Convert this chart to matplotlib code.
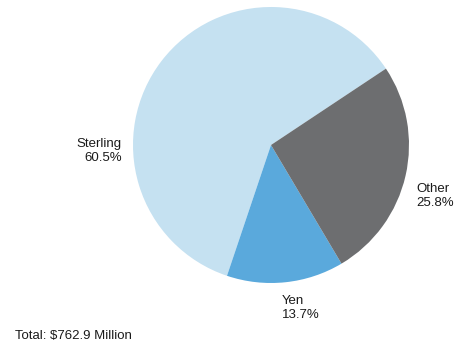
import matplotlib
matplotlib.use("Agg")
import matplotlib.pyplot as plt

currencies = ["Sterling", "Yen", "Other"]
shares = [60.5, 13.7, 25.8]
colors = ["#c5e1f1", "#5aa9dc", "#6d6e70"]
total_label = "Total: $762.9 Million"

W, H = 457, 348
fig = plt.figure(figsize=(W / 100, H / 100), dpi=100)
ax = fig.add_axes([0, 0, 1, 1])

ax.pie(
    shares,
    colors=colors,
    startangle=33.6,
    center=(271, 203),
    radius=138,
    wedgeprops=dict(linewidth=0),
    frame=True,
)
ax.set_xlim(0, W)
ax.set_ylim(0, H)
ax.set_aspect("equal")
ax.axis("off")

font = dict(family=["Liberation Sans", "DejaVu Sans"], fontsize=9.5, color="#1a1a1a")
label_pos = {
    "Sterling": (122, 197, "right"),
    "Yen": (282, 40, "left"),
    "Other": (416, 152, "left"),
}
for name, share in zip(currencies, shares):
    x, y, ha = label_pos[name]
    ax.text(x, y, f"{name}\n{share:.1f}%", ha=ha, va="center",
            multialignment=ha, linespacing=1.15, **font)

ax.text(15, 12, total_label, ha="left", va="center", **font)

fig.savefig("out.png", dpi=100)
